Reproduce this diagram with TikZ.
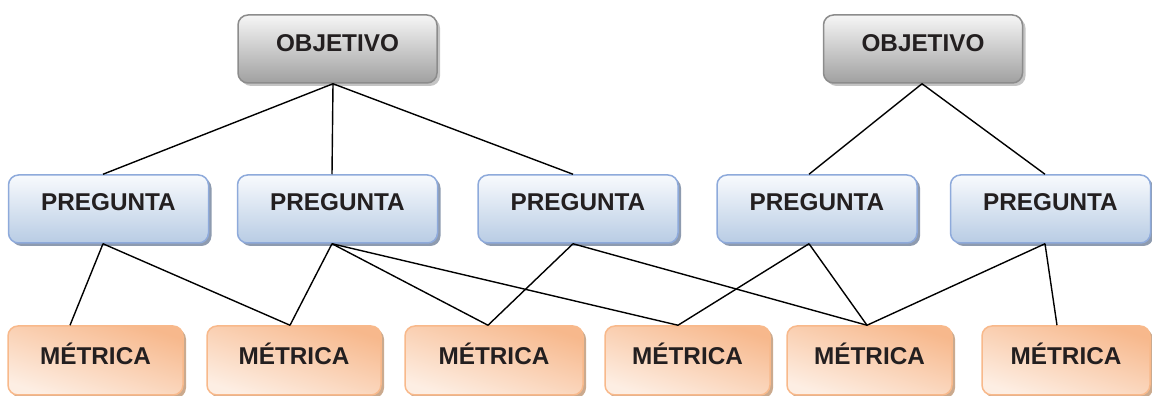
\documentclass[tikz,border=0pt]{standalone}
\usepackage{fontspec}
\setmainfont{Liberation Sans}
\usepackage{xcolor}
\usetikzlibrary{shadows}
\usetikzlibrary{positioning}
\definecolor{objborder}{HTML}{8C8C8C}
\definecolor{objtop}{HTML}{F6F6F6}
\definecolor{objbot}{HTML}{A0A0A0}
\definecolor{objshadow}{HTML}{C4C4C4}
\definecolor{pretop}{HTML}{F8FAFD}
\definecolor{prebot}{HTML}{B8CCE4}
\definecolor{preborder}{HTML}{8EAADB}
\definecolor{preshadow}{HTML}{8E9BAF}
\definecolor{mettop}{HTML}{F7B88C}
\definecolor{metbot}{HTML}{FDEEE3}
\definecolor{metborder}{HTML}{F8B98B}
\definecolor{metshadow}{HTML}{CBAA8E}
\definecolor{txt}{HTML}{231F20}
\tikzstyle{box} = [rectangle, rounded corners=10pt, line width=1.5pt, minimum height=68pt, inner sep=0pt, text height=17pt, text=txt, font=\fontsize{24.3}{28}\selectfont\bfseries]
\tikzstyle{link} = [line width=1.4pt, black]

\begin{document}
\begin{tikzpicture}[x=1pt, y=1pt,
		obj/.style = {box, text depth=11pt, minimum width=199pt, draw=objborder, top color=objtop, bottom color=objbot,
			drop shadow={shadow xshift=3pt, shadow yshift=-3pt, fill=objshadow, opacity=1}},
		preg/.style = {box, text depth=13pt, minimum width=200pt, draw=preborder, top color=pretop, bottom color=prebot,
			drop shadow={shadow xshift=3pt, shadow yshift=-3pt, fill=preshadow, opacity=1}},
		metr/.style = {box, text depth=9pt, minimum height=69pt, draw=metborder, top color=mettop, bottom color=metbot, shading angle=-18,
			drop shadow={shadow xshift=3pt, shadow yshift=-3pt, fill=metshadow, opacity=1}}]

		\useasboundingbox (0,0) rectangle (1152,396);

		% Objetivos
		\node[obj] (o1) at (337.5,347) {OBJETIVO};
		\node[obj] (o2) at (923,347) {OBJETIVO};

		% Preguntas
		\node[preg] (p1) at (108.5,187) {PREGUNTA};
		\node[preg] (p2) at (337.5,187) {PREGUNTA};
		\node[preg] (p3) at (578,187) {PREGUNTA};
		\node[preg] (p4) at (817,187) {PREGUNTA};
		\node[preg] (p5) at (1050.5,187) {PREGUNTA};

		% Metricas
		\node[metr,minimum width=175pt] (m1) at (95.5,35.5) {MÉTRICA};
		\node[metr,minimum width=174pt] (m2) at (294,35.5) {MÉTRICA};
		\node[metr,minimum width=178pt] (m3) at (494,35.5) {MÉTRICA};
		\node[metr,minimum width=165pt] (m4) at (687.5,35.5) {MÉTRICA};
		\node[metr,minimum width=165pt] (m5) at (869.5,35.5) {MÉTRICA};
		\node[metr,minimum width=168pt] (m6) at (1066,35.5) {MÉTRICA};

		% Objetivo - pregunta
		\draw[link] ([xshift=-4.5pt]o1.south) -- ([xshift=-5.5pt]p1.north);
		\draw[link] ([xshift=-4.5pt]o1.south) -- ([xshift=-5.5pt]p2.north);
		\draw[link] ([xshift=-4.5pt]o1.south) -- ([xshift=-5pt]p3.north);
		\draw[link] ([xshift=-1pt]o2.south) -- ([xshift=-8pt]p4.north);
		\draw[link] ([xshift=-1pt]o2.south) -- ([xshift=-5.5pt]p5.north);

		% Pregunta - metrica
		\draw[link] ([xshift=-5.5pt]p1.south) -- ([xshift=-25.5pt]m1.north);
		\draw[link] ([xshift=-5.5pt]p1.south) -- ([xshift=-4pt]m2.north);
		\draw[link] ([xshift=-5.5pt]p2.south) -- ([xshift=-4pt]m2.north);
		\draw[link] ([xshift=-5.5pt]p2.south) -- ([xshift=-6pt]m3.north);
		\draw[link] ([xshift=-5.5pt]p2.south) -- ([xshift=-9.5pt]m4.north);
		\draw[link] ([xshift=-5pt]p3.south) -- ([xshift=-6pt]m3.north);
		\draw[link] ([xshift=-5pt]p3.south) -- ([xshift=-2.5pt]m5.north);
		\draw[link] ([xshift=-8pt]p4.south) -- ([xshift=-9.5pt]m4.north);
		\draw[link] ([xshift=-8pt]p4.south) -- ([xshift=-2.5pt]m5.north);
		\draw[link] ([xshift=-5.5pt]p5.south) -- ([xshift=-2.5pt]m5.north);
		\draw[link] ([xshift=-5.5pt]p5.south) -- ([xshift=-9pt]m6.north);
\end{tikzpicture}
\end{document}
